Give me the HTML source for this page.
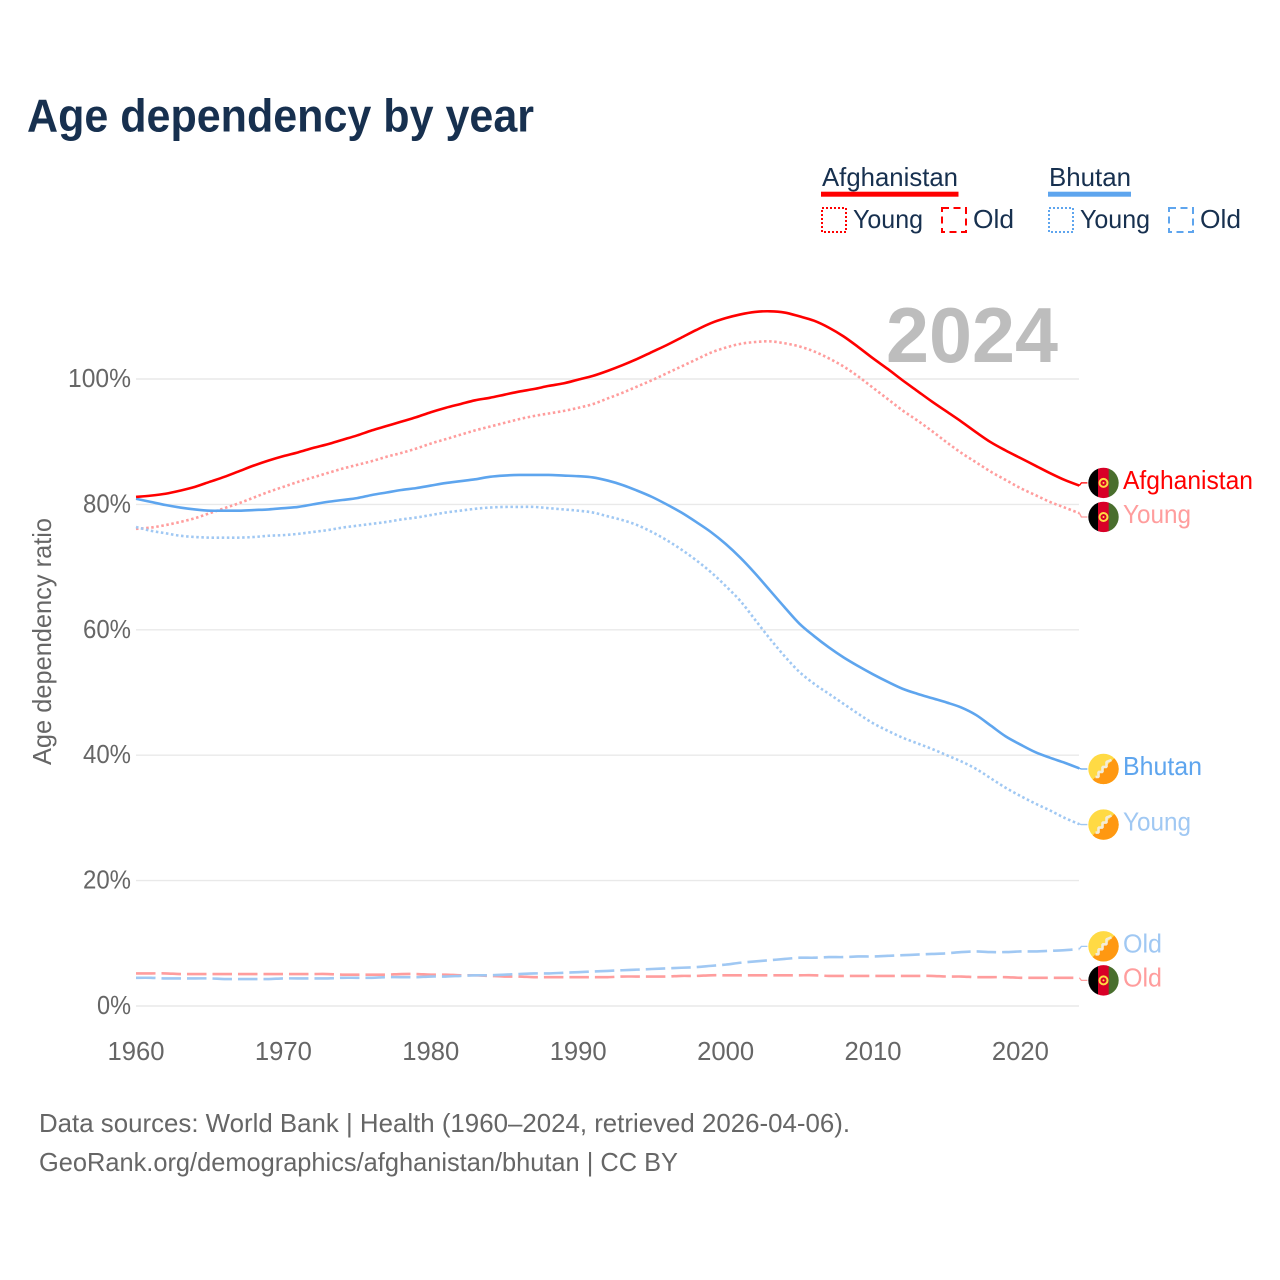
<!DOCTYPE html>
<html lang="en">
<head>
<meta charset="utf-8">
<title>Age dependency by year</title>
<style>
html,body{margin:0;padding:0;background:#fff;}
svg{display:block;font-family:"Liberation Sans",sans-serif;}
</style>
</head>
<body>
<svg id="chart" xmlns="http://www.w3.org/2000/svg" width="1280" height="1280" viewBox="0 0 1280 1280">
  <defs>
    <clipPath id="flag-clip"><circle cx="0" cy="0" r="15.2"/></clipPath>
    <symbol id="flag-afghanistan" viewBox="-16 -16 32 32" overflow="visible">
      <g clip-path="url(#flag-clip)">
        <rect x="-16" y="-16" width="11" height="32" fill="#000"/>
        <rect x="-5.5" y="-16" width="11" height="32" fill="#d80027"/>
        <rect x="5.2" y="-16" width="11" height="32" fill="#496e2d"/>
        <circle cx="0" cy="0" r="4" fill="none" stroke="#ffda44" stroke-width="2"/>
        <circle cx="0" cy="0" r="1" fill="#ffda44"/>
      </g>
    </symbol>
    <symbol id="flag-bhutan" viewBox="-16 -16 32 32" overflow="visible">
      <g clip-path="url(#flag-clip)">
        <rect x="-16" y="-16" width="32" height="32" fill="#ffda44"/>
        <polygon points="16,-16 16,16 -16,16" fill="#ff9811"/>
        <path d="M-8,8 L-5,8 L-5,3 L-1,3 L-1,-2 L3,-2 L3,-7 L8,-9" fill="none" stroke="#f3ecd8" stroke-width="2.6" stroke-linejoin="bevel"/>
      </g>
    </symbol>
  </defs>

  <text x="27" y="131.5" font-size="46" font-weight="700" fill="#17304f" textLength="507" lengthAdjust="spacingAndGlyphs">Age dependency by year</text>

  <g font-size="26" fill="#17304f">
    <text x="822" y="186" textLength="136" lengthAdjust="spacingAndGlyphs">Afghanistan</text>
    <rect x="821" y="191.7" width="137.5" height="5" fill="#ff0000"/>
    <rect x="822" y="208" width="24" height="24" fill="none" stroke="#ff0000" stroke-width="2" stroke-dasharray="2 2"/>
    <text x="853" y="228" textLength="70" lengthAdjust="spacingAndGlyphs">Young</text>
    <rect x="942" y="208" width="24" height="24" fill="none" stroke="#ff0000" stroke-width="2" stroke-dasharray="7 4.5"/>
    <text x="973" y="228" textLength="41" lengthAdjust="spacingAndGlyphs">Old</text>
    <text x="1049" y="186" textLength="82" lengthAdjust="spacingAndGlyphs">Bhutan</text>
    <rect x="1048" y="191.7" width="83" height="5" fill="#5ea5ee"/>
    <rect x="1049" y="208" width="24" height="24" fill="none" stroke="#5ea5ee" stroke-width="2" stroke-dasharray="2 2"/>
    <text x="1080" y="228" textLength="70" lengthAdjust="spacingAndGlyphs">Young</text>
    <rect x="1169" y="208" width="24" height="24" fill="none" stroke="#5ea5ee" stroke-width="2" stroke-dasharray="7 4.5"/>
    <text x="1200" y="228" textLength="41" lengthAdjust="spacingAndGlyphs">Old</text>
  </g>

  <text transform="translate(51,765) rotate(-90)" font-size="26" fill="#666666" textLength="247" lengthAdjust="spacingAndGlyphs">Age dependency ratio</text>

  <g id="grid"></g>
  <g id="y-ticks"></g>
  <g id="x-ticks"></g>

  <text x="886" y="362" font-size="78" font-weight="700" fill="#bdbdbd" textLength="172" lengthAdjust="spacingAndGlyphs">2024</text>

  <g id="series"></g>
  <g id="labels"></g>

  <g font-size="26" fill="#666666">
    <text x="39" y="1132" textLength="811" lengthAdjust="spacingAndGlyphs">Data sources: World Bank | Health (1960–2024, retrieved 2026-04-06).</text>
    <text x="39" y="1171" textLength="639" lengthAdjust="spacingAndGlyphs">GeoRank.org/demographics/afghanistan/bhutan | CC BY</text>
  </g>
</svg>
<script>
const startYear = 1960;
const xTickYears = [1960, 1970, 1980, 1990, 2000, 2010, 2020];
const yTickValues = [0, 20, 40, 60, 80, 100];

const afghanistanTotal = [81.2,81.4,81.7,82.2,82.8,83.6,84.4,85.3,86.2,87.0,87.7,88.3,89.0,89.6,90.3,91.0,91.8,92.5,93.2,93.9,94.7,95.4,96.0,96.6,97.0,97.5,98.0,98.4,98.9,99.3,99.9,100.5,101.3,102.2,103.2,104.3,105.4,106.6,107.8,108.9,109.7,110.3,110.7,110.8,110.6,110.0,109.3,108.2,106.8,105.1,103.3,101.6,99.8,98.1,96.4,94.8,93.2,91.5,89.9,88.6,87.4,86.2,85.0,83.9,83.0];
const afghanistanYoung = [76.1,76.3,76.7,77.2,77.8,78.6,79.4,80.2,81.1,82.0,82.8,83.6,84.3,85.0,85.7,86.3,86.9,87.6,88.2,88.9,89.7,90.4,91.1,91.8,92.4,93.0,93.6,94.1,94.5,94.9,95.4,96.0,96.9,97.8,98.8,99.8,100.9,102.0,103.1,104.2,105.0,105.6,105.9,106.0,105.7,105.2,104.4,103.3,102.0,100.4,98.6,96.8,95.0,93.4,91.7,89.9,88.2,86.7,85.2,83.9,82.6,81.5,80.4,79.5,78.6];
const afghanistanOld = [5.2,5.2,5.2,5.1,5.1,5.1,5.1,5.1,5.1,5.1,5.1,5.1,5.1,5.1,5.0,5.0,5.0,5.0,5.1,5.1,5.0,5.0,4.9,4.9,4.8,4.7,4.7,4.6,4.6,4.6,4.6,4.6,4.6,4.7,4.7,4.7,4.7,4.8,4.8,4.9,4.9,4.9,4.9,4.9,4.9,4.9,4.9,4.8,4.8,4.8,4.8,4.8,4.8,4.8,4.8,4.7,4.7,4.6,4.6,4.6,4.5,4.5,4.5,4.5,4.5];
const bhutanTotal = [80.9,80.4,79.9,79.5,79.2,79.0,79.0,79.0,79.1,79.2,79.4,79.6,80.0,80.4,80.7,81.0,81.5,81.9,82.3,82.6,83.0,83.4,83.7,84.0,84.4,84.6,84.7,84.7,84.7,84.6,84.5,84.3,83.8,83.1,82.2,81.2,80.0,78.7,77.2,75.6,73.7,71.5,69.0,66.3,63.6,61.0,59.0,57.2,55.6,54.2,52.9,51.7,50.6,49.8,49.1,48.4,47.6,46.4,44.7,43.0,41.7,40.5,39.6,38.8,37.9];
const bhutanYoung = [76.4,75.8,75.4,75.0,74.8,74.7,74.7,74.7,74.8,75.0,75.1,75.3,75.6,75.9,76.3,76.6,76.9,77.2,77.6,77.9,78.3,78.7,79.0,79.3,79.5,79.6,79.6,79.6,79.4,79.2,79.0,78.7,78.1,77.5,76.7,75.6,74.3,72.8,71.1,69.2,67.0,64.6,61.6,58.6,55.8,53.3,51.4,49.8,48.2,46.6,45.1,43.9,42.8,41.9,41.0,40.0,39.0,37.8,36.3,34.8,33.5,32.3,31.2,30.0,29.0];
const bhutanOld = [4.5,4.5,4.4,4.4,4.4,4.4,4.3,4.3,4.3,4.3,4.4,4.4,4.4,4.4,4.5,4.5,4.5,4.6,4.6,4.6,4.7,4.7,4.8,4.9,4.9,5.0,5.1,5.2,5.2,5.3,5.4,5.5,5.6,5.7,5.8,5.9,6.0,6.1,6.2,6.4,6.6,6.9,7.1,7.3,7.5,7.7,7.7,7.8,7.8,7.9,7.9,8.0,8.1,8.2,8.3,8.4,8.6,8.7,8.6,8.6,8.7,8.7,8.8,8.9,9.1];

const SVGNS = 'http://www.w3.org/2000/svg';
const PLOT_LEFT = 136, PER_YEAR = 14.74, ZERO_Y = 1006, PER_PCT = 6.27;
function xScale(year) { return PLOT_LEFT + (year - startYear) * PER_YEAR; }
function yScale(v) { return ZERO_Y - v * PER_PCT; }
function make(tag, parent, attrs, text) {
  const el = document.createElementNS(SVGNS, tag);
  for (const k in attrs) el.setAttribute(k, attrs[k]);
  if (text !== undefined) el.textContent = text;
  parent.appendChild(el);
  return el;
}
function smoothPath(values) {
  const pts = values.map(function (v, i) { return [xScale(startYear + i), yScale(v)]; });
  let d = 'M' + pts[0][0].toFixed(2) + ',' + pts[0][1].toFixed(2);
  for (let i = 0; i < pts.length - 1; i++) {
    const p0 = pts[Math.max(i - 1, 0)], p1 = pts[i], p2 = pts[i + 1], p3 = pts[Math.min(i + 2, pts.length - 1)];
    const c1x = p1[0] + (p2[0] - p0[0]) / 6, c1y = p1[1] + (p2[1] - p0[1]) / 6;
    const c2x = p2[0] - (p3[0] - p1[0]) / 6, c2y = p2[1] - (p3[1] - p1[1]) / 6;
    d += ' C' + c1x.toFixed(2) + ',' + c1y.toFixed(2) + ' ' + c2x.toFixed(2) + ',' + c2y.toFixed(2) + ' ' + p2[0].toFixed(2) + ',' + p2[1].toFixed(2);
  }
  return d;
}

const grid = document.getElementById('grid');
const yTicks = document.getElementById('y-ticks');
const xTicks = document.getElementById('x-ticks');

yTickValues.forEach(function (v) {
  const line = make('line', grid, { x1: PLOT_LEFT, x2: 1079, y1: yScale(v), y2: yScale(v), stroke: '#e9e9e9', 'stroke-width': 1.4 });
  
  
  const w = v === 100 ? 63 : (v === 0 ? 34 : 48);
  const t = make('text', yTicks, { x: 131, y: yScale(v) + 8, 'text-anchor': 'end', 'font-size': 26, fill: '#666666', textLength: w, lengthAdjust: 'spacingAndGlyphs' }, v + '%');
  
  
});

xTickYears.forEach(function (yr) {
  const t = make('text', xTicks, { x: xScale(yr), y: 1060, 'text-anchor': 'middle', 'font-size': 26, fill: '#666666', textLength: 57, lengthAdjust: 'spacingAndGlyphs' }, String(yr));
  
  
});

const seriesDefs = [
  { key: 'afghanistan-old', values: afghanistanOld, color: '#ff9d9d', dash: '19.5 6', label: 'Old', flag: 'flag-afghanistan', dy: 2.6, labelWidth: 39 },
  { key: 'bhutan-old', values: bhutanOld, color: '#a0c8f3', dash: '19.5 6', label: 'Old', flag: 'flag-bhutan', dy: -2.6, labelWidth: 39 },
  { key: 'afghanistan-young', values: afghanistanYoung, color: '#ff9d9d', dash: '2.5 2.6', label: 'Young', flag: 'flag-afghanistan', dy: 3.8, labelWidth: 68 },
  { key: 'bhutan-young', values: bhutanYoung, color: '#a0c8f3', dash: '2.5 2.6', label: 'Young', flag: 'flag-bhutan', dy: 0.4, labelWidth: 68 },
  { key: 'bhutan-total', values: bhutanTotal, color: '#5ea5ee', dash: null, label: 'Bhutan', flag: 'flag-bhutan', dy: 0.6, labelWidth: 79 },
  { key: 'afghanistan-total', values: afghanistanTotal, color: '#ff0000', dash: null, label: 'Afghanistan', flag: 'flag-afghanistan', dy: -2.7, labelWidth: 130 }
];

const seriesGroup = document.getElementById('series');
const labelsGroup = document.getElementById('labels');

seriesDefs.forEach(function (s) {
  const attrs = { d: smoothPath(s.values), fill: 'none', stroke: s.color, 'stroke-width': 2.6, 'stroke-linejoin': 'round' };
  if (s.dash) attrs['stroke-dasharray'] = s.dash;
  const line = make('path', seriesGroup, attrs);
  
  

  const last = s.values[s.values.length - 1];
  const endX = xScale(startYear + s.values.length - 1);
  const endY = yScale(last);
  const cy = endY + s.dy;

  const connector = make('path', labelsGroup, { d: 'M' + endX + ',' + endY + ' L' + (endX + 2) + ',' + cy + ' L' + (endX + 8) + ',' + cy, fill: 'none', stroke: s.color, 'stroke-width': 1.3 });
  
  

  const flag = make('use', labelsGroup, { href: '#' + s.flag, x: 1087.5, y: cy - 16, width: 32, height: 32 });
  
  

  const label = make('text', labelsGroup, { x: 1123, y: cy + 6, 'font-size': 26, fill: s.color, textLength: s.labelWidth, lengthAdjust: 'spacingAndGlyphs' }, s.label);
  
  
});
</script>
</body>
</html>
